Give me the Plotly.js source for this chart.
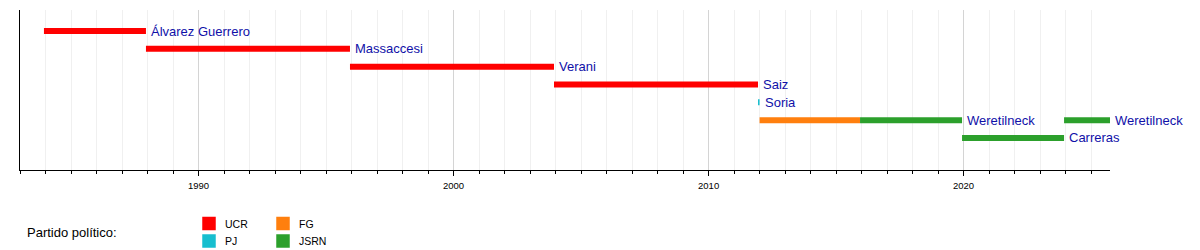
<!DOCTYPE html>
<html>
<head>
<meta charset="utf-8">
<script src="https://cdn.plot.ly/plotly-3.0.1.min.js"></script>
<style>html,body{margin:0;padding:0;background:#fff;}#chart{width:1200px;height:250px;}</style>
</head>
<body>
<div id="chart"></div>
<script>
// ---- data ----
const rows = ["Álvarez Guerrero", "Massaccesi", "Verani", "Saiz", "Soria", "Weretilneck", "Carreras"];
const segName  = ["Álvarez Guerrero", "Massaccesi", "Verani", "Saiz", "Soria", "Weretilneck", "Weretilneck", "Carreras", "Weretilneck"];
const segStart = ["1983-12-10", "1987-12-10", "1995-12-10", "2003-12-10", "2011-12-10", "2012-01-01", "2015-12-10", "2019-12-10", "2023-12-10"];
const segEnd   = ["1987-12-10", "1995-12-10", "2003-12-10", "2011-12-10", "2012-01-01", "2015-12-10", "2019-12-10", "2023-12-10", "2025-09-28"];
const segParty = ["UCR", "UCR", "UCR", "UCR", "PJ", "FG", "JSRN", "JSRN", "JSRN"];
const parties  = ["UCR", "PJ", "FG", "JSRN"];
const partyColors = ["#ff0000", "#17becf", "#ff7f0e", "#2ca02c"];
const legendTitle = "Partido político:";
const axisStart = "1983-01-01";
const axisEnd = "2025-09-28";

// ---- traces ----
const traces = [];
parties.forEach((p, pi) => {
  const idx = segParty.map((v, i) => v === p ? i : -1).filter(i => i >= 0);
  traces.push({
    type: "bar", orientation: "h",
    y: idx.map(i => segName[i]),
    base: idx.map(i => segStart[i]),
    x: idx.map(i => Date.parse(segEnd[i]) - Date.parse(segStart[i])),
    width: 0.3365,
    marker: {color: partyColors[pi], line: {width: 0}},
    xaxis: "x", yaxis: "y",
    showlegend: false, hoverinfo: "skip"
  });
});

// legend markers in a separate small axes
traces.push({
  type: "scatter", mode: "markers",
  x: parties.map((p, i) => Math.floor(i / 2)),
  y: parties.map((p, i) => i % 2),
  marker: {symbol: "square", size: 13.5, color: partyColors, line: {width: 0}},
  xaxis: "x2", yaxis: "y2", showlegend: false, hoverinfo: "skip"
});

// ---- annotations ----
const annotations = [];
segName.forEach((n, i) => {
  const cont = (i + 1 < segName.length) && segName[i + 1] === n && segStart[i + 1] === segEnd[i];
  if (cont) return;
  annotations.push({
    x: segEnd[i], y: n, xref: "x", yref: "y",
    text: n, showarrow: false, xanchor: "left", yanchor: "middle",
    xshift: 3, yshift: 0,
    font: {family: "Liberation Sans, Arial, sans-serif", size: 13, color: "#1010a8"}
  });
});
parties.forEach((p, i) => {
  annotations.push({
    x: Math.floor(i / 2), y: i % 2, xref: "x2", yref: "y2",
    text: p, showarrow: false, xanchor: "left", yanchor: "middle",
    xshift: 14,
    font: {family: "Liberation Sans, Arial, sans-serif", size: 10.5, color: "#000"}
  });
});
annotations.push({
  x: 25 / 1200, y: 1 - 232 / 250, xref: "paper", yref: "paper",
  text: legendTitle, showarrow: false, xanchor: "left", yanchor: "middle",
  font: {family: "Liberation Sans, Arial, sans-serif", size: 13, color: "#000"}
});

const layout = {
  width: 1200, height: 250,
  margin: {l: 0, r: 0, t: 0, b: 0, pad: 0},
  paper_bgcolor: "#fff", plot_bgcolor: "rgba(0,0,0,0)",
  font: {family: "Liberation Sans, Arial, sans-serif", color: "#000"},
  barmode: "overlay",
  showlegend: false,
  xaxis: {
    type: "date", domain: [20 / 1200, 1110 / 1200],
    range: [axisStart, axisEnd], autorange: false,
    tick0: "1980-01-01", dtick: "M120", tickformat: "%Y",
    ticks: "outside", ticklen: 5, tickwidth: 1, tickcolor: "#000",
    ticklabelstandoff: 2,
    tickfont: {size: 9.5, color: "#000"},
    showline: true, linecolor: "#000", linewidth: 1,
    showgrid: true, gridcolor: "#d4d4d4", gridwidth: 1,
    zeroline: false, fixedrange: true,
    minor: {tick0: "1980-01-01", dtick: "M12", ticks: "outside", ticklen: 3, tickcolor: "#000", tickwidth: 1,
            showgrid: true, gridcolor: "#f0f0f0", gridwidth: 1}
  },
  yaxis: {
    type: "category", categoryorder: "array", categoryarray: rows,
    domain: [80 / 250, 240 / 250],
    range: [7.795, -1.178], autorange: false,
    showticklabels: false, ticks: "", showgrid: false, zeroline: false,
    showline: true, linecolor: "#000", linewidth: 1, fixedrange: true
  },
  xaxis2: {
    domain: [0, 1], range: [-209 / 74, -209 / 74 + 1200 / 74], autorange: false,
    visible: false, anchor: "y2", fixedrange: true
  },
  yaxis2: {
    domain: [0, 0.3], range: [1.514, -2.771], autorange: false,
    visible: false, anchor: "x2", fixedrange: true
  },
  annotations: annotations
};

Plotly.newPlot("chart", traces, layout, {staticPlot: true, displayModeBar: false});
</script>
</body>
</html>
